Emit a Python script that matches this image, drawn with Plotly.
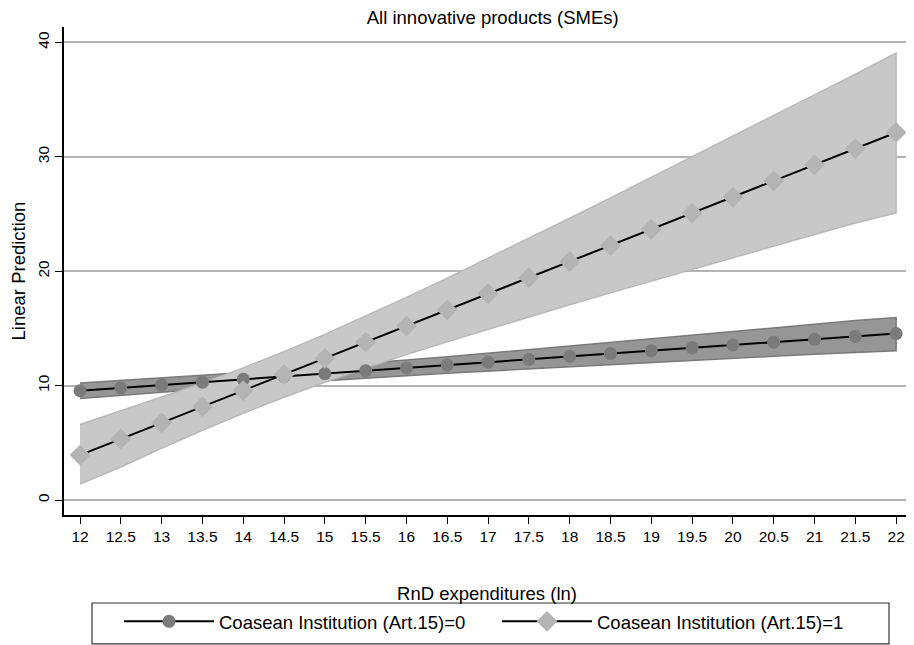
import plotly.graph_objects as go

x_vals = [12, 12.5, 13, 13.5, 14, 14.5, 15, 15.5, 16, 16.5, 17, 17.5, 18, 18.5, 19, 19.5, 20, 20.5, 21, 21.5, 22]

pred0 = [9.55, 9.80, 10.05, 10.30, 10.55, 10.80, 11.05, 11.30, 11.55, 11.80, 12.05, 12.30, 12.55, 12.80, 13.05, 13.30, 13.55, 13.80, 14.05, 14.30, 14.55]
lo0 = [8.87, 9.16, 9.44, 9.70, 9.96, 10.20, 10.44, 10.66, 10.87, 11.08, 11.27, 11.47, 11.66, 11.84, 12.03, 12.21, 12.38, 12.56, 12.74, 12.91, 13.05]
hi0 = [10.23, 10.44, 10.66, 10.90, 11.14, 11.40, 11.66, 11.94, 12.23, 12.52, 12.83, 13.13, 13.44, 13.76, 14.07, 14.39, 14.72, 15.04, 15.36, 15.69, 15.95]

pred1 = [3.93, 5.34, 6.75, 8.16, 9.57, 10.98, 12.39, 13.80, 15.21, 16.62, 18.03, 19.44, 20.85, 22.26, 23.67, 25.08, 26.49, 27.90, 29.31, 30.72, 32.13]
lo1 = [1.40, 2.89, 4.53, 6.10, 7.59, 8.99, 10.30, 11.54, 12.71, 13.84, 14.94, 16.01, 17.07, 18.11, 19.14, 20.17, 21.19, 22.20, 23.21, 24.22, 25.10]
hi1 = [6.60, 7.79, 8.97, 10.22, 11.55, 12.97, 14.48, 16.06, 17.71, 19.40, 21.12, 22.87, 24.63, 26.41, 28.20, 29.99, 31.79, 33.60, 35.41, 37.22, 39.08]

names = ["Coasean Institution (Art.15)=0", "Coasean Institution (Art.15)=1"]
x_ticks = [12, 12.5, 13, 13.5, 14, 14.5, 15, 15.5, 16, 16.5, 17, 17.5, 18, 18.5, 19, 19.5, 20, 20.5, 21, 21.5, 22]
y_ticks = [0, 10, 20, 30, 40]

FONT = "Liberation Sans, Arial, sans-serif"

fig = go.Figure()

# CI bands
fig.add_trace(go.Scatter(
    x=x_vals + x_vals[::-1], y=hi0 + lo0[::-1],
    fill="toself", fillcolor="#969696",
    line=dict(color="#7a7a7a", width=1.5),
    mode="lines", showlegend=False, hoverinfo="skip"))
fig.add_trace(go.Scatter(
    x=x_vals + x_vals[::-1], y=hi1 + lo1[::-1],
    fill="toself", fillcolor="#c8c8c8",
    line=dict(color="#b9b9b9", width=1.5),
    mode="lines", showlegend=False, hoverinfo="skip"))

# prediction lines
fig.add_trace(go.Scatter(
    x=x_vals, y=pred0, mode="lines+markers", name=names[0],
    line=dict(color="black", width=2),
    marker=dict(symbol="circle", size=13, color="#7b7b7b")))
fig.add_trace(go.Scatter(
    x=x_vals, y=pred1, mode="lines+markers", name=names[1],
    line=dict(color="black", width=2),
    marker=dict(symbol="diamond", size=16, color="#b4b4b4")))

fig.update_layout(
    width=906, height=637,
    margin=dict(l=56, r=4, t=19, b=130, autoexpand=False),
    paper_bgcolor="white", plot_bgcolor="white",
    font=dict(family=FONT, size=16, color="black"),
    title=dict(text="All innovative products (SMEs)", x=0.535, xanchor="center",
               y=0.985, yanchor="middle", font=dict(size=18.5)),
    showlegend=True,
    legend=dict(orientation="h", x=0.065, xanchor="left", y=-0.18, yanchor="top",
                borderwidth=0, itemwidth=90, entrywidth=273,
                font=dict(size=18.5), bgcolor="rgba(0,0,0,0)"),
    shapes=[dict(type="rect", xref="paper", yref="paper",
                 x0=0.0331, x1=0.9752, y0=-0.1803, y1=-0.264,
                 line=dict(color="#333333", width=1.2), fillcolor="rgba(0,0,0,0)",
                 layer="below")],
)

fig.update_xaxes(
    range=[11.804, 22.17], tickvals=x_ticks, ticktext=[str(t) for t in x_ticks],
    showgrid=False, zeroline=False,
    showline=True, linecolor="black", linewidth=1.5,
    ticks="outside", ticklen=7, tickcolor="black", tickwidth=1.2,
    tickfont=dict(size=15.5),
    title=dict(text="RnD expenditures (ln)", font=dict(size=18.5), standoff=43))

fig.update_yaxes(
    range=[-1.31, 41.35], tickvals=y_ticks, ticktext=[str(t) for t in y_ticks],
    showgrid=True, gridcolor="#b4b4b4", gridwidth=2, zeroline=False,
    showline=True, linecolor="black", linewidth=1.5,
    ticks="outside", ticklen=7, tickcolor="black", tickwidth=1.2,
    tickangle=-90, tickfont=dict(size=15.5),
    title=dict(text="Linear Prediction", font=dict(size=18.5), standoff=10))

fig.write_html("out.html")
